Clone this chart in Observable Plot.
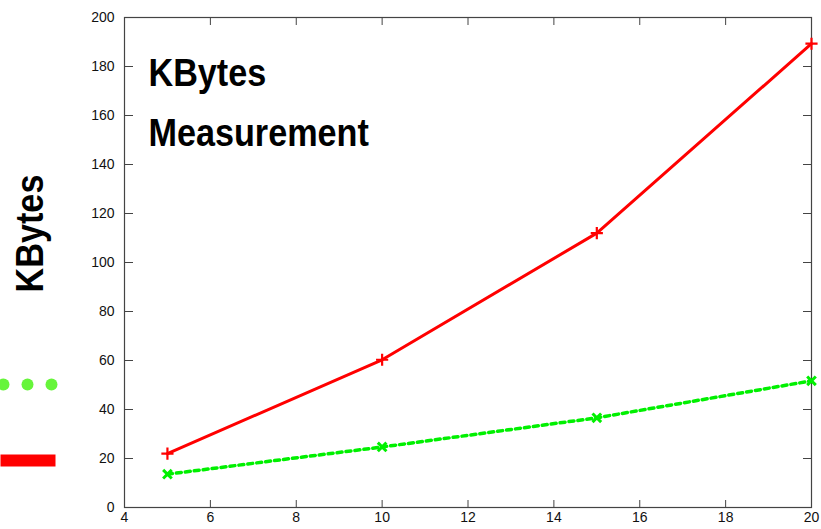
<!DOCTYPE html>
<html>
<head>
<meta charset="utf-8">
<script src="https://cdn.jsdelivr.net/npm/d3@7"></script>
<script src="https://cdn.jsdelivr.net/npm/@observablehq/plot@0.6"></script>
<style>
  html, body { margin: 0; padding: 0; background: #ffffff; }
  #chart { width: 821px; height: 529px; overflow: hidden; }
</style>
</head>
<body>
<div id="chart"></div>
<script>
// Sample sizes along the x axis
const xValues = [5, 10, 15, 20];
// KBytes measured for each series
const redSeries = [22, 60.3, 112, 189.3];
const greenSeries = [13.6, 24.7, 36.6, 51.7];

// Axis ticks
const xTicks = [4, 6, 8, 10, 12, 14, 16, 18, 20];
const yTicks = [0, 20, 40, 60, 80, 100, 120, 140, 160, 180, 200];

// Texts
const titleLines = ["KBytes", "Measurement"];
const yLabel = "KBytes";

// Key samples at the left edge (dotted green, solid red)
const legendDotOffsets = [-121, -97, -73];

const RED = "#ff0000";
const GREEN = "#00f000";
const KEY_GREEN = "#66f53a";
const AXIS = "#444444";

const redRows = xValues.map((x, i) => ({x, y: redSeries[i]}));
const greenRows = xValues.map((x, i) => ({x, y: greenSeries[i]}));

// A wide flat bar used as the solid-line key sample
const barSymbol = {
  draw(context) {
    context.rect(-27.5, -6, 55, 12);
  }
};

const chart = Plot.plot({
  width: 821,
  height: 529,
  marginLeft: 124,
  marginRight: 10,
  marginTop: 17,
  marginBottom: 22,
  style: {
    fontFamily: "'Liberation Sans', Arial, sans-serif",
    fontSize: "14px",
    color: "#111111",
    background: "#ffffff"
  },
  x: {domain: [4, 20], label: null},
  y: {domain: [0, 200], label: null},
  marks: [
    // tick labels
    Plot.axisY(yTicks, {anchor: "left", tickSize: 0, tickPadding: 10, label: null, fontSize: 14}),
    Plot.axisX(xTicks, {anchor: "bottom", tickSize: 0, tickPadding: 5, label: null, fontSize: 14}),
    // inward ticks on all four sides
    Plot.axisY(yTicks, {anchor: "right", frameAnchor: "left", tickSize: 8, fill: "none", stroke: AXIS, label: null}),
    Plot.axisY(yTicks, {anchor: "left", frameAnchor: "right", tickSize: 8, fill: "none", stroke: AXIS, label: null}),
    Plot.axisX(xTicks, {anchor: "top", frameAnchor: "bottom", tickSize: 8, fill: "none", stroke: AXIS, label: null}),
    Plot.axisX(xTicks, {anchor: "bottom", frameAnchor: "top", tickSize: 8, fill: "none", stroke: AXIS, label: null}),
    Plot.frame({stroke: AXIS, strokeWidth: 1.2}),

    // green dotted series
    Plot.line(greenRows, {x: "x", y: "y", stroke: GREEN, strokeWidth: 3.5, strokeDasharray: "5,4"}),
    Plot.dot(greenRows, {x: "x", y: "y", symbol: "times", r: 4, stroke: GREEN, strokeWidth: 3}),

    // red solid series
    Plot.line(redRows, {x: "x", y: "y", stroke: RED, strokeWidth: 3}),
    Plot.dot(redRows, {x: "x", y: "y", symbol: "plus", r: 4, stroke: RED, strokeWidth: 2.2}),

    // title inside the plot
    Plot.text([titleLines.join("\n")], {
      frameAnchor: "top-left",
      lineAnchor: "top",
      textAnchor: "start",
      dx: 24,
      dy: 26,
      fontSize: 38,
      fontWeight: "bold",
      lineHeight: 60 / 38,
      fill: "#000000"
    }),

    // rotated y-axis label
    Plot.text([yLabel], {
      frameAnchor: "left",
      rotate: -90,
      textAnchor: "middle",
      lineAnchor: "middle",
      dx: -94,
      dy: -29,
      fontSize: 38,
      fontWeight: "bold",
      fill: "#000000"
    }),

    // key samples
    ...legendDotOffsets.map((dx) =>
      Plot.dot([yLabel], {frameAnchor: "left", dx, dy: 122, r: 6, fill: KEY_GREEN, stroke: null})
    ),
    Plot.dot([yLabel], {frameAnchor: "left", dx: -96.5, dy: 198, r: 6, symbol: barSymbol, fill: RED, stroke: null})
  ]
});

// The large bold texts use a slightly condensed face
d3.select(chart).selectAll("g[aria-label='text'] text").each(function () {
  const t = this.getAttribute("transform") || "";
  this.setAttribute("transform", (t + " scale(0.9,1)").trim());
});

document.getElementById("chart").appendChild(chart);
</script>
</body>
</html>
